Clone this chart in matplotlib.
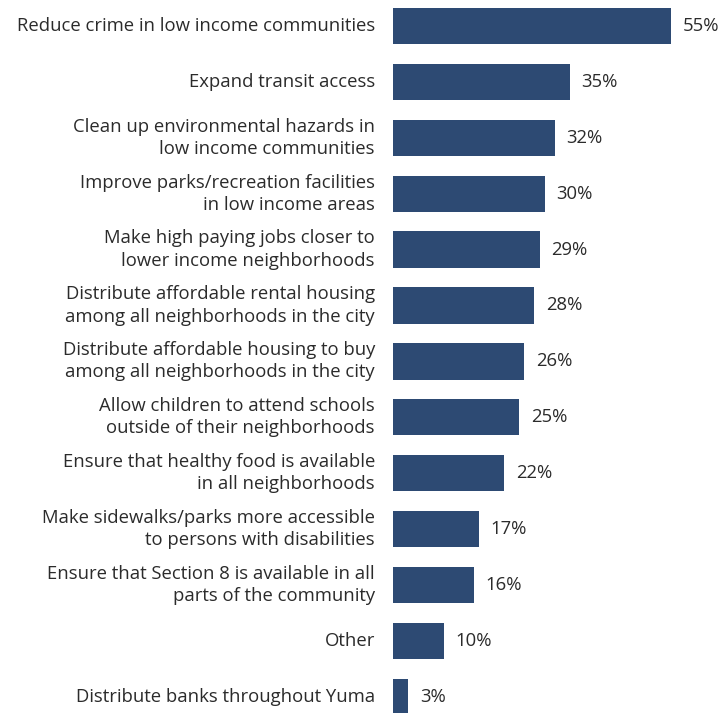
import matplotlib.pyplot as plt

labels = [
    "Reduce crime in low income communities",
    "Expand transit access",
    "Clean up environmental hazards in\nlow income communities",
    "Improve parks/recreation facilities\nin low income areas",
    "Make high paying jobs closer to\nlower income neighborhoods",
    "Distribute affordable rental housing\namong all neighborhoods in the city",
    "Distribute affordable housing to buy\namong all neighborhoods in the city",
    "Allow children to attend schools\noutside of their neighborhoods",
    "Ensure that healthy food is available\nin all neighborhoods",
    "Make sidewalks/parks more accessible\nto persons with disabilities",
    "Ensure that Section 8 is available in all\nparts of the community",
    "Other",
    "Distribute banks throughout Yuma",
]
values = [55, 35, 32, 30, 29, 28, 26, 25, 22, 17, 16, 10, 3]

bar_color = "#2D4A73"
text_color = "#2B2B2B"

plt.rcParams['font.family'] = ['Open Sans', 'DejaVu Sans']

fig = plt.figure(figsize=(7.27, 7.13), dpi=100)
ax = fig.add_axes([393 / 727, 0, 1 - 393 / 727, 1])

pos = list(range(len(values)))
ax.barh(pos, values, height=0.65, color=bar_color)

ax.set_xlim(0, 66.1)
ax.set_ylim(12.29, -0.465)
ax.axis("off")

for i, (lab, v) in enumerate(zip(labels, values)):
    ax.annotate(lab, xy=(0, i), xytext=(-13, 0), textcoords="offset points",
                ha="right", va="center", fontsize=13.3, color=text_color,
                linespacing=1.3, annotation_clip=False)
    ax.annotate(f"{v}%", xy=(v, i), xytext=(8.5, 0), textcoords="offset points",
                ha="left", va="center", fontsize=13.3, color=text_color,
                annotation_clip=False)

fig.savefig("out.png", dpi=100)
